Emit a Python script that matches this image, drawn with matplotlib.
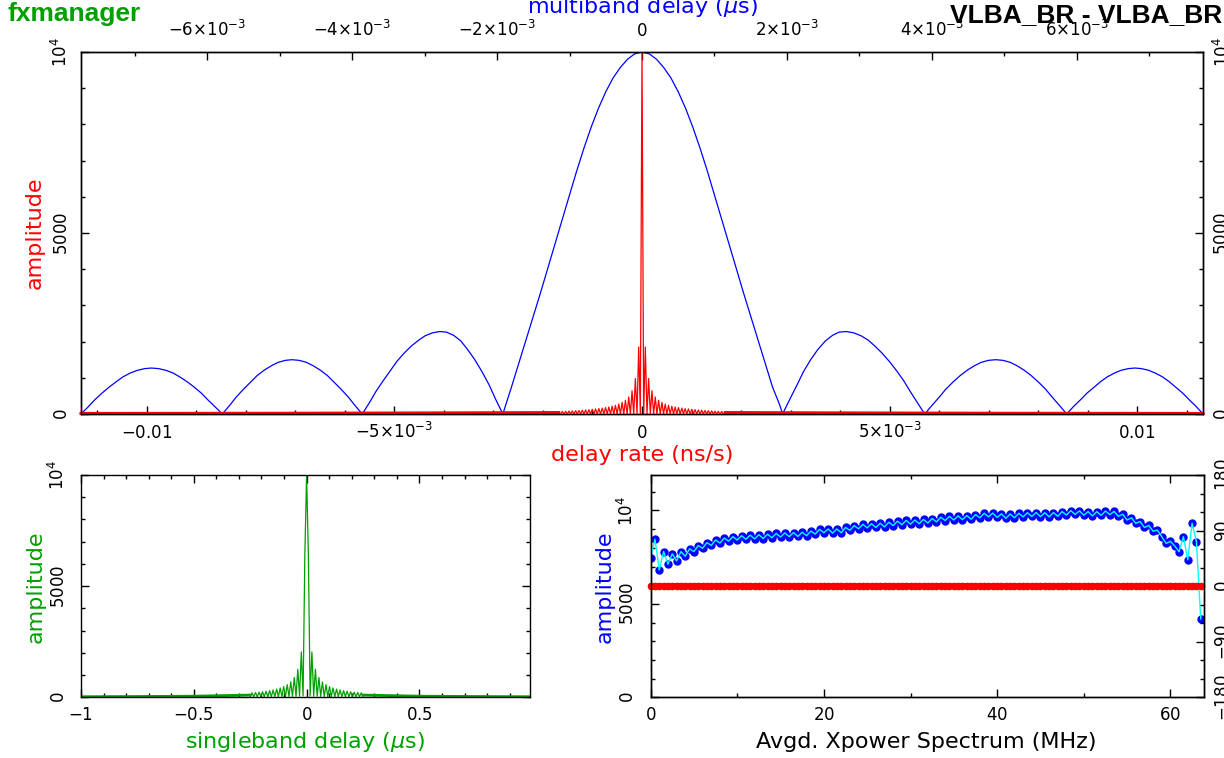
import matplotlib
matplotlib.use('Agg')
import matplotlib.pyplot as plt
import matplotlib.ticker as tkr
import numpy as np

RED = '#ff0000'
BLUE = '#0000ff'
GREEN = '#00a000'
CYAN = '#00ffff'

# multiband delay function (blue, top panel); delay in units of 1e-3 us
mbd_delay = [
    -7.74, -7.64, -7.55, -7.45, -7.35, -7.25, -7.16, -7.06, -6.96, -6.86,
    -6.77, -6.67, -6.57, -6.47, -6.38, -6.28, -6.18, -6.08, -5.99, -5.89,
    -5.79, -5.69, -5.60, -5.50, -5.40, -5.31, -5.21, -5.11, -5.02, -4.92,
    -4.83, -4.73, -4.63, -4.54, -4.44, -4.34, -4.25, -4.15, -4.05, -3.96,
    -3.86, -3.76, -3.67, -3.57, -3.47, -3.38, -3.28, -3.18, -3.08, -2.99,
    -2.89, -2.79, -2.70, -2.60, -2.50, -2.41, -2.31, -2.21, -2.11, -2.02,
    -1.92, -1.90, -1.80, -1.70, -1.60, -1.50, -1.40, -1.30, -1.20, -1.10,
    -1.00, -0.90, -0.80, -0.70, -0.60, -0.50, -0.40, -0.30, -0.20, -0.10,
    0.00, 0.10, 0.20, 0.30, 0.40, 0.50, 0.60, 0.70, 0.80, 0.90,
    1.00, 1.10, 1.20, 1.30, 1.40, 1.50, 1.60, 1.70, 1.80, 1.90,
    1.94, 2.04, 2.14, 2.23, 2.33, 2.43, 2.53, 2.63, 2.72, 2.82,
    2.92, 3.02, 3.12, 3.21, 3.31, 3.41, 3.51, 3.61, 3.70, 3.80,
    3.90, 4.00, 4.10, 4.19, 4.29, 4.39, 4.49, 4.59, 4.68, 4.78,
    4.88, 4.98, 5.08, 5.17, 5.27, 5.37, 5.47, 5.57, 5.66, 5.76,
    5.86, 5.95, 6.05, 6.14, 6.24, 6.33, 6.42, 6.52, 6.61, 6.71,
    6.80, 6.89, 6.99, 7.08, 7.18, 7.27, 7.36, 7.46, 7.55, 7.65, 7.74]
mbd_amp = [
    0, 199, 392, 577, 746, 898, 1027, 1132, 1208, 1254,
    1270, 1254, 1208, 1132, 1027, 898, 746, 577, 392, 199,
    0, 235, 464, 681, 882, 1061, 1214, 1337, 1427, 1482,
    1500, 1482, 1427, 1337, 1214, 1061, 882, 681, 464, 235,
    0, 315, 625, 922, 1202, 1458, 1686, 1882, 2042, 2163,
    2242, 2278, 2263, 2175, 2018, 1792, 1510, 1178, 807, 410,
    0, 125, 750, 1400, 2050, 2700, 3350, 4020, 4700, 5380,
    6050, 6720, 7350, 7930, 8450, 8900, 9280, 9570, 9800, 9950,
    10000, 9950, 9800, 9570, 9280, 8900, 8450, 7930, 7350, 6720,
    6050, 5380, 4700, 4020, 3350, 2700, 2050, 1400, 750, 250,
    0, 410, 807, 1178, 1510, 1792, 2018, 2175, 2263, 2278,
    2242, 2163, 2042, 1882, 1686, 1458, 1202, 922, 625, 315,
    0, 235, 464, 681, 882, 1061, 1214, 1337, 1427, 1482,
    1500, 1482, 1427, 1337, 1214, 1061, 882, 681, 464, 235,
    0, 199, 392, 577, 746, 898, 1027, 1132, 1208, 1254,
    1270, 1254, 1208, 1132, 1027, 898, 746, 577, 392, 199, 0]

# delay rate function (red, top panel): lobe peaks from the centre outwards
rate_spacing = 6.7e-5  # ns/s between the red stripes
rate_peak_amp = [10000, 1850, 980, 640, 470, 380, 320, 275, 240, 215, 195, 178, 163,
                 150, 140, 130, 120, 112, 105, 98, 92, 86, 80, 75, 70]
rate_gap_amp = [0, 0, 0, 0, 0, 0, 0, 0, 0, 0, 0, 0, 0,
                0, 0, 0, 0, 0, 0, 0, 0, 0, 0, 0, 0]
rate_tail = [0.00168, 0.004, 0.0075, 0.01133]
rate_tail_amp = [40, 30, 20, 15]

# singleband delay function (green), samples every 1/128 us from 0 outwards
sbd_spacing = 1.0 / 128
sbd_amp = [10000, 6400, 60, 2040, 50, 1260, 45, 890, 40, 690, 38, 570, 35, 480,
           33, 420, 31, 370, 30, 330, 29, 300, 28, 275, 27, 250, 26, 232, 25, 216,
           25, 202, 24]
sbd_tail = [0.25, 0.5, 0.75, 1.0]
sbd_tail_amp = [100, 50, 35, 25]

# averaged cross-power spectrum, 0.5 MHz bins
xp_freq = np.arange(0, 64, 0.5)
xp_amp = [7450, 8460, 6820, 7800, 7120, 7680, 7300, 7800, 7550, 7950,
          7800, 8120, 7980, 8280, 8130, 8420, 8260, 8520, 8360, 8600,
          8420, 8650, 8460, 8680, 8480, 8700, 8500, 8730, 8540, 8770,
          8580, 8800, 8600, 8820, 8610, 8840, 8650, 8900, 8740, 8990,
          8810, 9010, 8790, 9010, 8810, 9090, 8940, 9190, 9020, 9260,
          9070, 9290, 9090, 9320, 9120, 9370, 9190, 9430, 9240, 9470,
          9270, 9490, 9290, 9520, 9330, 9570, 9390, 9640, 9460, 9690,
          9490, 9710, 9510, 9730, 9530, 9780, 9610, 9850, 9660, 9860,
          9630, 9820, 9580, 9810, 9610, 9850, 9660, 9880, 9680, 9890,
          9670, 9880, 9660, 9890, 9690, 9940, 9760, 9990, 9790, 9980,
          9750, 9940, 9710, 9940, 9740, 9970, 9780, 9950, 9690, 9800,
          9490, 9610, 9310, 9410, 9090, 9200, 8890, 8950, 8590, 8240,
          8350, 8100, 7790, 8600, 7360, 9320, 8340, 4200]
xp_phase = np.zeros(len(xp_freq))


def m(s):
    return r'$\mathregular{' + s + '}$'


def mirror(x, y):
    x = np.asarray(x, float)
    y = np.asarray(y, float)
    return np.r_[-x[:0:-1], x], np.r_[y[:0:-1], y]


def style(ax):
    for s in ax.spines.values():
        s.set_linewidth(1.0)
    ax.tick_params(which='both', direction='in', colors='black', labelsize=12)
    ax.tick_params(which='major', length=6, width=1.0)
    ax.tick_params(which='minor', length=3, width=1.0)


def px(x, y):
    return x / 1224.0, 1 - y / 758.0


fig = plt.figure(figsize=(12.24, 7.58), dpi=100)

# ---------------- top panel
ax_rate = fig.add_axes([81 / 1224, 1 - 414 / 758, 1122 / 1224, 362 / 758])
ax_mbd = ax_rate.twiny()
ax_rate.set_zorder(ax_mbd.get_zorder() + 1)
ax_rate.patch.set_visible(False)

ax_mbd.plot(np.array(mbd_delay) * 1e-3, mbd_amp, color=BLUE, lw=0.9)

# red stripes: peak, gap, peak, gap ... from the centre outwards
k = np.arange(len(rate_peak_amp))
r_pos = np.empty(2 * len(k))
r_pos[0::2] = k * rate_spacing
r_pos[1::2] = (k + 0.5) * rate_spacing
r_amp = np.empty(2 * len(k))
r_amp[0::2] = rate_peak_amp
r_amp[1::2] = rate_gap_amp
rx, ry = mirror(r_pos, r_amp)
ax_rate.plot(rx, ry, color=RED, lw=0.9)
ax_rate.plot(rate_tail, rate_tail_amp, color=RED, lw=2.2, clip_on=False)
ax_rate.plot(-np.array(rate_tail), rate_tail_amp, color=RED, lw=2.2, clip_on=False)

for ax in (ax_rate, ax_mbd):
    style(ax)
ax_rate.set_xlim(-0.01133, 0.01133)
ax_rate.set_ylim(0, 10000)
ax_mbd.set_xlim(-7.74e-3, 7.74e-3)

ax_rate.set_xticks([-0.01, -0.005, 0, 0.005, 0.01],
                   [m('-0.01'), m(r'-5{\times}10^{-3}'), m('0'), m(r'5{\times}10^{-3}'), m('0.01')])
ax_rate.xaxis.set_minor_locator(tkr.MultipleLocator(0.001))
ax_rate.tick_params(axis='x', pad=17)
plt.setp(ax_rate.get_xticklabels(), va='baseline')

ax_mbd.set_xticks([-6e-3, -4e-3, -2e-3, 0, 2e-3, 4e-3, 6e-3],
                  [m(r'-6{\times}10^{-3}'), m(r'-4{\times}10^{-3}'), m(r'-2{\times}10^{-3}'), m('0'),
                   m(r'2{\times}10^{-3}'), m(r'4{\times}10^{-3}'), m(r'6{\times}10^{-3}')])
ax_mbd.xaxis.set_minor_locator(tkr.MultipleLocator(1e-3))
ax_mbd.tick_params(axis='x', pad=8.5)

ax_rate.set_yticks([0, 5000, 10000], [m('0'), m('5000'), m('10^4')])
ax_rate.yaxis.set_minor_locator(tkr.MultipleLocator(1000))
ax_rate.tick_params(axis='y', which='both', left=True, right=True, labelright=True,
                    labelrotation=90)
ax_rate.tick_params(axis='y', which='major', pad=9.5)
for t in ax_rate.yaxis.get_major_ticks():
    t.label1.set_va('center')
    t.label2.set_va('center')
    t.label2.set_rotation(90)
    t.set_pad(7)

fig.text(*px(35, 233), 'amplitude', color=RED, fontsize=16, rotation=90,
         ha='center', va='center')
fig.text(*px(642, 455), 'delay rate (ns/s)', color=RED, fontsize=16,
         ha='center', va='center')
fig.text(*px(642, 13), r'multiband delay ($\mu$s)', color=BLUE, fontsize=16,
         ha='center', va='baseline')

# ---------------- bottom left: singleband delay
ax_sbd = fig.add_axes([81 / 1224, 1 - 697.3 / 758, 449.4 / 1224, 222.3 / 758])
style(ax_sbd)
sx, sy = mirror(np.arange(len(sbd_amp)) * sbd_spacing, sbd_amp)
ax_sbd.plot(sx, sy, color=GREEN, lw=0.9)
ax_sbd.plot(sbd_tail, sbd_tail_amp, color=GREEN, lw=2.0, clip_on=True)
ax_sbd.plot(-np.array(sbd_tail), sbd_tail_amp, color=GREEN, lw=2.0, clip_on=True)
ax_sbd.set_xlim(-1, 0.992)
ax_sbd.set_ylim(0, 10000)
ax_sbd.set_xticks([-1, -0.5, 0, 0.5], [m('-1'), m('-0.5'), m('0'), m('0.5')])
ax_sbd.xaxis.set_minor_locator(tkr.MultipleLocator(0.1))
ax_sbd.set_yticks([0, 5000, 10000], [m('0'), m('5000'), m('10^4')])
ax_sbd.yaxis.set_minor_locator(tkr.MultipleLocator(1000))
ax_sbd.tick_params(which='both', top=True, right=True)
ax_sbd.tick_params(axis='x', pad=16)
plt.setp(ax_sbd.get_xticklabels(), va='baseline')
ax_sbd.tick_params(axis='y', labelrotation=90, pad=9.5)
plt.setp(ax_sbd.get_yticklabels(), va='center')

fig.text(*px(36, 587), 'amplitude', color=GREEN, fontsize=16, rotation=90,
         ha='center', va='center')
fig.text(*px(305, 742), r'singleband delay ($\mu$s)', color=GREEN, fontsize=16,
         ha='center', va='center')

# ---------------- bottom right: cross-power spectrum
ax_xp = fig.add_axes([650.6 / 1224, 1 - 697.3 / 758, 553.6 / 1224, 222.3 / 758])
ax_ph = ax_xp.twinx()
style(ax_xp)
style(ax_ph)
ax_xp.plot(xp_freq, xp_amp, 'o', color=BLUE, ms=5.0, zorder=2)
ax_xp.plot(xp_freq, xp_amp, '-', color=CYAN, lw=1.0, zorder=3)
ax_ph.plot(xp_freq, xp_phase, '-', color=RED, lw=4.2, solid_capstyle='round',
           clip_on=False)
ax_ph.plot(xp_freq, xp_phase, 'o', color=RED, ms=4.5, clip_on=False)

ax_xp.set_xlim(0, 63.9)
ax_xp.set_ylim(0, 11900)
ax_ph.set_ylim(-180, 180)
ax_xp.set_xticks([0, 20, 40, 60], [m('0'), m('20'), m('40'), m('60')])
ax_xp.xaxis.set_minor_locator(tkr.MultipleLocator(10))
ax_xp.tick_params(which='both', top=True)
ax_xp.tick_params(axis='x', pad=16)
plt.setp(ax_xp.get_xticklabels(), va='baseline')
ax_xp.set_yticks([0, 5000, 10000], [m('0'), m('5000'), m('10^4')])
ax_xp.yaxis.set_minor_locator(tkr.MultipleLocator(1000))
ax_xp.tick_params(axis='y', labelrotation=90, pad=9.5)
plt.setp(ax_xp.get_yticklabels(), va='center')

ax_ph.set_yticks([-180, -90, 0, 90, 180], [m('-180'), m('-90'), m('0'), m('90'), m('180')])
ax_ph.yaxis.set_minor_locator(tkr.MultipleLocator(30))
ax_ph.tick_params(axis='y', labelrotation=90, pad=7)
plt.setp(ax_ph.get_yticklabels(), va='center')

fig.text(*px(605, 587), 'amplitude', color=BLUE, fontsize=16, rotation=90,
         ha='center', va='center')
fig.text(*px(926, 742), 'Avgd. Xpower Spectrum (MHz)', color='black', fontsize=16,
         ha='center', va='center')

# ---------------- header
fig.text(*px(8, 21), 'fxmanager', color=GREEN, fontsize=19, fontweight='bold',
         family='Liberation Sans', ha='left', va='baseline')
fig.text(*px(1222, 22), 'VLBA_BR - VLBA_BR', color='black', fontsize=19, fontweight='bold',
         family='Liberation Sans', ha='right', va='baseline')

fig.savefig('out.png', dpi=100)
